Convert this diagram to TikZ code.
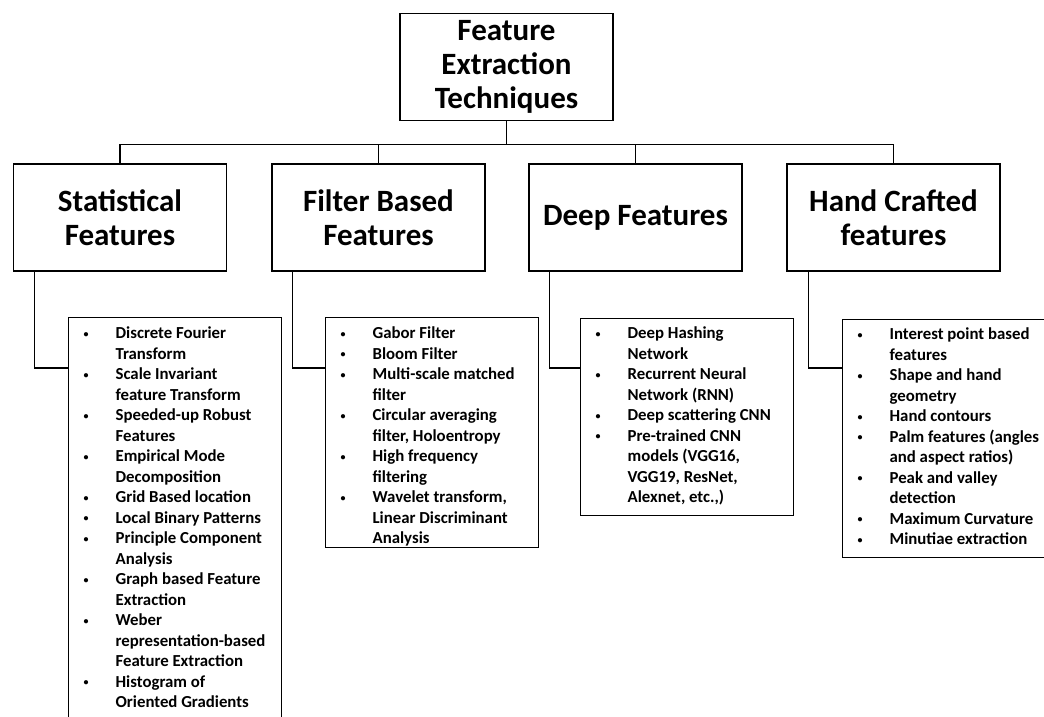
\documentclass[tikz,border=0pt]{standalone}
\usepackage{fontspec}
\setmainfont{Carlito}
\newcommand{\fxb}{\makebox[47pt][l]{\hspace*{15pt}\raisebox{1.6pt}{\fontsize{10}{10}\selectfont\textbullet}}}
\newcommand{\fxc}{\hspace*{47pt}}
\begin{document}
\begin{tikzpicture}[x=1pt,y=-1pt,
  head/.style={draw, line width=1.3pt, minimum width=213pt, minimum height=107pt,
    inner sep=0pt, align=center, font=\fontsize{31}{34}\selectfont\bfseries},
  listbox/.style={draw, line width=1.2pt, inner sep=0pt, anchor=north west,
    font=\fontsize{16.8}{20.5}\selectfont\bfseries},
  link/.style={line width=1.2pt}]
\useasboundingbox (0,0) rectangle (1044,717);
\fill[white] (0,0) rectangle (1044,717);

\node[head] (root) at (506.5,67) {Feature\\Extraction\\Techniques};
\node[head] (stat) at (120,217.5) {Statistical\\Features};
\node[head] (filt) at (378.5,217.5) {Filter Based\\Features};
\node[head] (deep) at (635.5,217.5) {Deep Features};
\node[head] (hand) at (893.5,217.5) {Hand Crafted\\features};

\node[listbox] (l1) at (68,317) {\parbox[t][425pt][t]{213pt}{\vspace*{7pt}%
\fxb\rule{0pt}{14pt}Discrete Fourier\\
\fxc Transform\\
\fxb Scale Invariant\\
\fxc feature Transform\\
\fxb Speeded-up Robust\\
\fxc Features\\
\fxb Empirical Mode\\
\fxc Decomposition\\
\fxb Grid Based location\\
\fxb Local Binary Patterns\\
\fxb Principle Component\\
\fxc Analysis\\
\fxb Graph based Feature\\
\fxc Extraction\\
\fxb Weber\\
\fxc representation-based\\
\fxc Feature Extraction\\
\fxb Histogram of\\
\fxc Oriented Gradients}};

\node[listbox] (l2) at (325,317) {\parbox[t][230pt][t]{213pt}{\vspace*{7pt}%
\fxb\rule{0pt}{14pt}Gabor Filter\\
\fxb Bloom Filter\\
\fxb Multi-scale matched\\
\fxc filter\\
\fxb Circular averaging\\
\fxc filter, Holoentropy\\
\fxb High frequency\\
\fxc filtering\\
\fxb Wavelet transform,\\
\fxc Linear Discriminant\\
\fxc Analysis}};

\node[listbox] (l3) at (580,318) {\parbox[t][197pt][t]{213pt}{\vspace*{6pt}%
\fxb\rule{0pt}{14pt}Deep Hashing\\
\fxc Network\\
\fxb Recurrent Neural\\
\fxc Network (RNN)\\
\fxb Deep scattering CNN\\
\fxb Pre-trained CNN\\
\fxc models (VGG16,\\
\fxc VGG19, ResNet,\\
\fxc Alexnet, etc.,)}};

\node[listbox] (l4) at (842,319) {\parbox[t][238pt][t]{213pt}{\vspace*{6pt}%
\fxb\rule{0pt}{14pt}Interest point based\\
\fxc features\\
\fxb Shape and hand\\
\fxc geometry\\
\fxb Hand contours\\
\fxb Palm features (angles\\
\fxc and aspect ratios)\\
\fxb Peak and valley\\
\fxc detection\\
\fxb Maximum Curvature\\
\fxb Minutiae extraction}};

\foreach \c in {stat,filt,deep,hand}
  \draw[link] (root.south) -- ++(0,23) -| (\c.north);

\draw[link] ([xshift=22pt]stat.south west) |- ([yshift=-51pt]l1.north west);
\draw[link] ([xshift=21pt]filt.south west) |- ([yshift=-51pt]l2.north west);
\draw[link] ([xshift=21pt]deep.south west) |- ([yshift=-50pt]l3.north west);
\draw[link] ([xshift=22pt]hand.south west) |- ([yshift=-49pt]l4.north west);
\end{tikzpicture}
\end{document}
